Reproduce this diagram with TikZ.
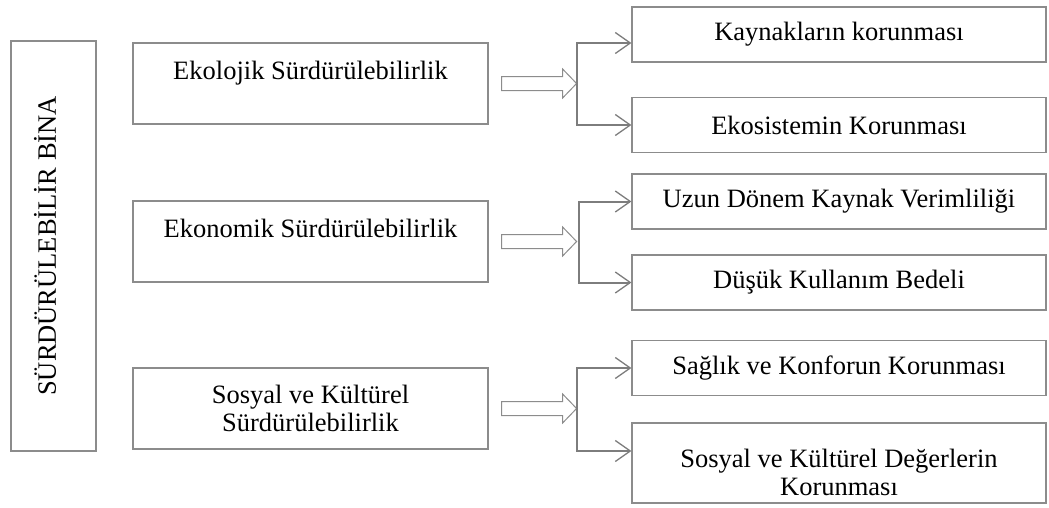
\documentclass[tikz,border=0pt]{standalone}
\usepackage{fontspec}
\setmainfont{Liberation Serif}
\usetikzlibrary{arrows.meta}
\definecolor{boxgray}{RGB}{140,140,140}
\definecolor{linegray}{RGB}{125,125,125}

\begin{document}
\begin{tikzpicture}[x=1pt, y=-1pt,
		font=\fontsize{26.5}{28}\selectfont,
		box/.style={draw=boxgray, line width=1.2pt, align=center, inner sep=0pt},
		leftbox/.style={box, minimum width=355pt, minimum height=81pt},
		rightbox/.style={box, minimum width=414pt, minimum height=55pt},
		upper/.style={text height=19pt, text depth=27pt},
		link/.style={draw=linegray, line width=2pt, -{Straight Barb[length=15pt, width=21pt, line width=1.3pt]}},
		hollow/.style={draw=boxgray, line width=1pt, fill=white}]
	\useasboundingbox (0,0) rectangle (1049,507);

	% main box
	\node[box, rotate=90, minimum width=410pt, minimum height=85pt, text height=22pt, text depth=17.5pt] (bina) at (53.5,246) {SÜRDÜRÜLEBİLİR BİNA};

	% three dimensions
	\node[leftbox, upper] (eko) at (310.5,83.5) {Ekolojik Sürdürülebilirlik};
	\node[leftbox, upper] (ekn) at (310.5,241.5) {Ekonomik Sürdürülebilirlik};
	\node[leftbox] (sos) at (310.5,408.5) {Sosyal ve Kültürel\\Sürdürülebilirlik};

	% goals
	\node[rightbox] (kay) at (839,34.5) {Kaynakların korunması};
	\node[rightbox] (ekos) at (839,125) {Ekosistemin Korunması};
	\node[rightbox] (uzun) at (839,201.5) {Uzun Dönem Kaynak Verimliliği};
	\node[rightbox] (dusuk) at (839,282.5) {Düşük Kullanım Bedeli};
	\node[rightbox] (saglik) at (839,368) {Sağlık ve Konforun Korunması};
	\node[rightbox, minimum height=80pt] (deger) at (839,463) {\rule{0pt}{37pt}Sosyal ve Kültürel Değerlerin\\Korunması};

	% hollow arrows
	\foreach \src/\jn in {eko/j1, ekn/j2, sos/j3} {
		\coordinate (\jn) at ([xshift=88pt]\src.east);
		\draw[hollow] (\jn) -- ++(-14,-14.5) -- ++(0,7.5) -- ++(-61,0) -- ++(0,14) -- ++(61,0) -- ++(0,7.5) -- cycle;
	}

	% brackets
	\draw[link] (j1) |- ([yshift=-8.5pt]kay.west);
	\draw[link] (j1) |- (ekos.west);
	\draw[link] ([xshift=2pt]j2) |- (uzun.west);
	\draw[link] ([xshift=2pt]j2) |- (dusuk.west);
	\draw[link] (j3) |- (saglik.west);
	\draw[link] (j3) |- ([yshift=12pt]deger.west);
\end{tikzpicture}
\end{document}
